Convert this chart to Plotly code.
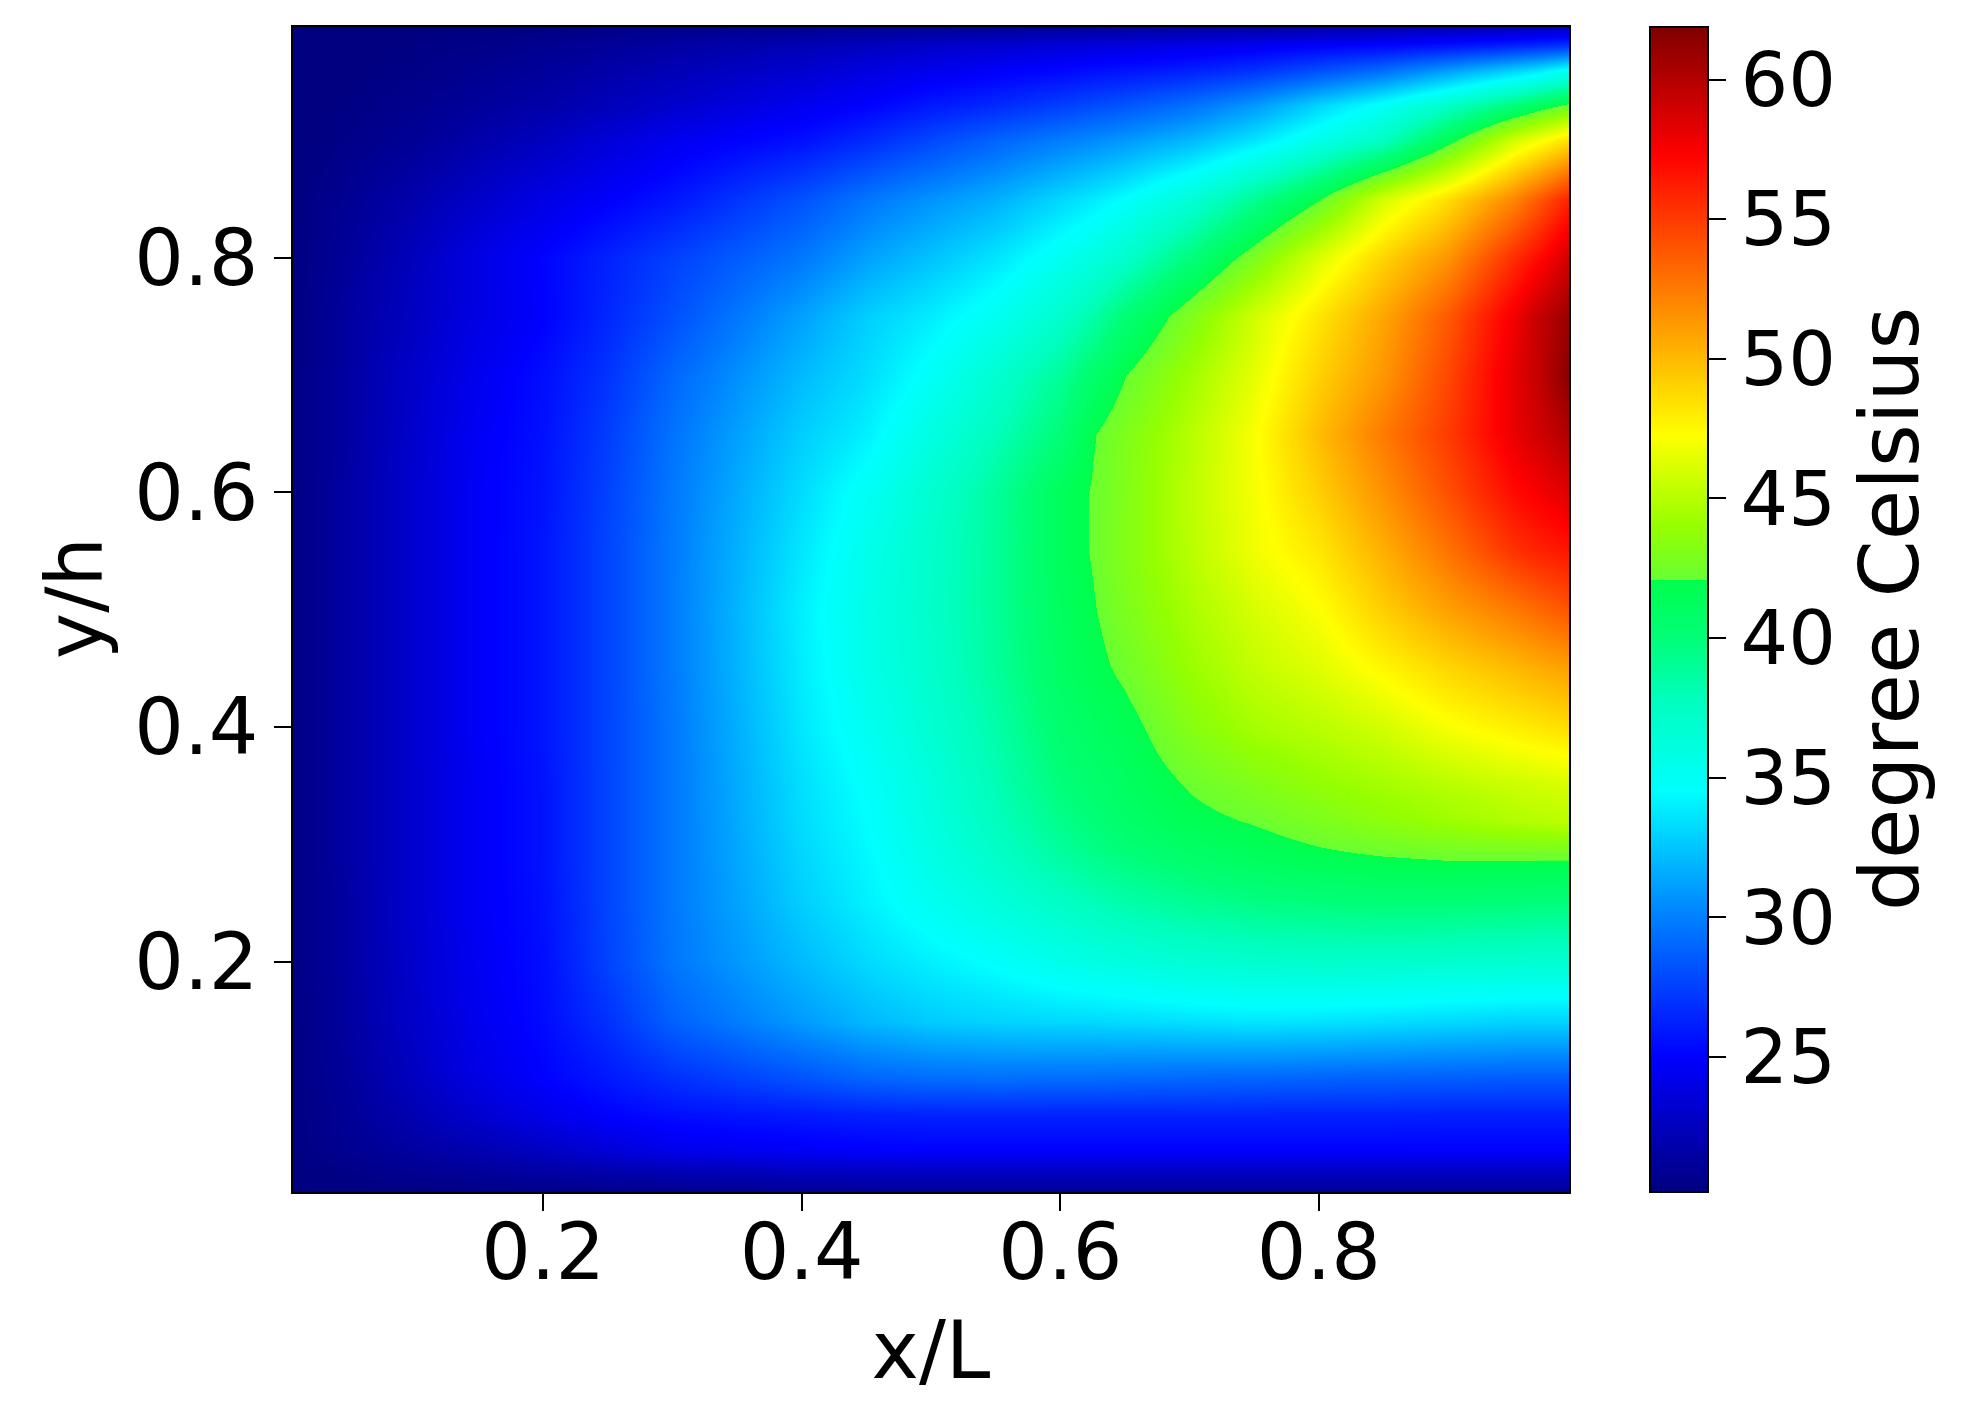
import plotly.graph_objects as go

# x/L and y/h of the sampled points
x_pos = [0.0065, 0.05, 0.1, 0.15, 0.2, 0.25, 0.3, 0.4, 0.45, 0.5, 0.55, 0.6, 0.625, 0.65, 0.7, 0.75, 0.8, 0.85, 0.9, 0.95, 0.97, 0.9935]
y_pos = [0.004, 0.02, 0.04, 0.07, 0.1, 0.15, 0.2, 0.25, 0.29, 0.32, 0.35, 0.4, 0.45, 0.5, 0.55, 0.6, 0.65, 0.7, 0.75, 0.8, 0.85, 0.9, 0.93, 0.96, 0.98, 0.9965]

# temperature in degree Celsius, one row per y_pos value
temps = [
    [20.2, 20.2, 20.3, 20.4, 20.5, 20.6, 20.7, 20.9, 21.0, 21.0, 21.0, 21.0, 21.0, 21.0, 21.0, 21.0, 21.0, 21.0, 21.0, 21.0, 21.0, 21.0],
    [20.2, 20.4, 20.8, 21.1, 21.4, 21.7, 22.0, 22.4, 22.5, 22.6, 22.6, 22.6, 22.6, 22.6, 22.6, 22.6, 22.6, 22.6, 22.6, 22.6, 22.6, 22.6],
    [20.3, 20.8, 21.4, 22.0, 22.7, 23.5, 24.2, 24.7, 24.9, 25.0, 25.0, 25.0, 25.0, 25.0, 25.0, 25.0, 25.0, 25.0, 25.0, 25.0, 25.0, 25.0],
    [20.3, 21.0, 22.1, 23.2, 24.2, 25.0, 25.5, 26.0, 26.2, 26.3, 26.3, 26.3, 26.3, 26.3, 26.3, 26.3, 26.3, 26.3, 26.2, 26.2, 26.2, 26.2],
    [20.3, 21.2, 22.6, 24.0, 25.0, 25.9, 26.8, 28.2, 28.9, 29.2, 29.3, 29.2, 29.2, 29.1, 29.0, 28.9, 28.8, 28.7, 28.6, 28.5, 28.5, 28.5],
    [20.3, 21.4, 23.0, 24.4, 25.4, 26.9, 28.8, 31.0, 32.0, 32.7, 33.0, 33.2, 33.2, 33.3, 33.5, 33.7, 33.6, 33.4, 33.2, 33.0, 33.0, 33.0],
    [20.3, 21.5, 23.1, 24.6, 25.5, 27.6, 29.6, 32.1, 33.2, 34.0, 34.7, 35.5, 35.9, 36.2, 36.7, 37.0, 37.1, 37.1, 37.0, 36.9, 36.8, 36.8],
    [20.3, 21.5, 23.2, 24.7, 25.6, 27.7, 29.7, 32.8, 34.0, 35.2, 36.3, 37.4, 37.9, 38.4, 39.1, 39.6, 39.9, 40.1, 40.1, 40.0, 39.9, 39.9],
    [20.3, 21.6, 23.2, 24.7, 25.7, 27.7, 29.7, 33.1, 34.3, 35.8, 37.3, 38.7, 39.4, 39.9, 40.7, 41.3, 41.8, 42.1, 42.3, 42.3, 42.3, 42.3],
    [20.3, 21.6, 23.2, 24.7, 25.7, 27.7, 29.7, 33.3, 34.5, 36.1, 37.8, 39.4, 40.1, 40.7, 41.7, 42.2, 42.9, 43.6, 44.2, 44.8, 45.0, 45.2],
    [20.3, 21.6, 23.2, 24.7, 25.7, 27.7, 29.7, 33.4, 34.7, 36.3, 38.1, 39.9, 40.5, 41.1, 42.2, 43.0, 43.8, 44.4, 45.0, 45.6, 45.8, 46.0],
    [20.3, 21.6, 23.2, 24.8, 25.8, 27.7, 29.7, 33.7, 35.2, 36.8, 38.5, 40.5, 41.1, 41.6, 43.3, 44.5, 45.1, 45.9, 47.1, 47.9, 48.2, 48.6],
    [20.3, 21.6, 23.2, 24.8, 25.8, 27.7, 29.8, 33.9, 35.6, 37.1, 38.9, 41.0, 41.7, 42.4, 44.1, 45.4, 46.3, 47.6, 48.9, 50.0, 50.5, 51.0],
    [20.3, 21.6, 23.2, 24.8, 25.8, 27.7, 29.8, 34.0, 35.7, 37.3, 39.0, 41.2, 42.0, 42.9, 44.6, 46.0, 47.2, 49.2, 51.0, 52.5, 53.2, 54.0],
    [20.3, 21.6, 23.2, 24.8, 25.8, 27.7, 29.8, 33.7, 35.5, 37.2, 39.0, 41.4, 42.2, 43.2, 45.1, 46.8, 48.2, 50.4, 52.8, 55.3, 56.0, 56.5],
    [20.3, 21.6, 23.2, 24.8, 25.7, 27.6, 29.7, 33.3, 35.0, 36.9, 38.9, 41.4, 42.2, 43.1, 45.2, 47.0, 49.2, 51.6, 54.2, 56.9, 57.6, 58.5],
    [20.3, 21.5, 23.1, 24.7, 25.6, 27.4, 29.5, 32.8, 34.0, 36.0, 37.9, 40.1, 42.0, 43.0, 45.0, 47.1, 49.9, 52.5, 55.0, 58.0, 59.0, 60.2],
    [20.3, 21.5, 23.0, 24.4, 25.5, 27.0, 29.0, 32.1, 33.3, 34.9, 36.9, 39.0, 40.6, 42.05, 44.3, 46.5, 49.1, 51.4, 54.5, 58.2, 59.5, 61.6],
    [20.2, 21.4, 22.7, 24.0, 25.0, 26.5, 28.1, 31.2, 32.8, 33.9, 35.2, 37.1, 38.5, 40.2, 43.0, 45.8, 48.3, 50.8, 53.8, 57.7, 59.4, 61.0],
    [20.2, 21.2, 22.5, 24.0, 25.1, 26.3, 27.5, 29.7, 31.2, 32.4, 33.6, 35.2, 36.1, 37.2, 40.0, 42.9, 46.2, 49.0, 51.5, 55.5, 57.0, 59.0],
    [20.2, 20.9, 21.9, 23.0, 24.0, 24.9, 25.8, 28.2, 29.6, 30.7, 31.7, 33.1, 33.8, 34.6, 36.6, 39.2, 42.0, 45.9, 48.6, 52.0, 53.8, 56.0],
    [20.1, 20.5, 21.0, 21.8, 22.6, 23.5, 24.4, 25.6, 26.6, 27.8, 28.9, 29.9, 30.4, 30.9, 32.0, 33.6, 35.6, 37.6, 41.5, 45.8, 47.0, 48.5],
    [20.1, 20.3, 20.7, 21.2, 21.7, 22.4, 23.1, 24.4, 25.0, 25.9, 26.6, 27.4, 27.9, 28.3, 29.4, 30.9, 33.0, 34.9, 37.3, 40.0, 41.2, 42.4],
    [20.0, 20.2, 20.4, 20.8, 21.2, 21.7, 22.2, 23.2, 23.8, 24.3, 24.8, 25.2, 25.5, 25.7, 26.2, 26.9, 28.0, 29.2, 31.0, 32.8, 33.6, 35.0],
    [20.0, 20.1, 20.3, 20.5, 20.8, 21.1, 21.5, 22.2, 22.6, 23.0, 23.3, 23.6, 23.8, 23.9, 24.2, 24.6, 25.0, 25.3, 25.8, 26.5, 26.8, 27.3],
    [20.0, 20.0, 20.1, 20.2, 20.3, 20.5, 20.6, 20.8, 20.9, 21.0, 21.1, 21.2, 21.2, 21.3, 21.4, 21.6, 21.8, 22.0, 22.2, 22.4, 22.5, 22.6],
]

x_ticks = [0.2, 0.4, 0.6, 0.8]
y_ticks = [0.2, 0.4, 0.6, 0.8]
cbar_ticks = [25, 30, 35, 40, 45, 50, 55, 60]
t_min = 20.17
t_max = 61.88

# jet like map, with the step the original has just above 42 degrees
jet_stops = [
    [0.0, "rgb(0,0,128)"],
    [0.116, "rgb(0,0,255)"],
    [0.236, "rgb(0,128,255)"],
    [0.344, "rgb(0,255,255)"],
    [0.4227, "rgb(0,255,190)"],
    [0.4754, "rgb(0,255,120)"],
    [0.5256, "rgb(0,255,75)"],
    [0.5257, "rgb(105,255,50)"],
    [0.5715, "rgb(150,255,0)"],
    [0.65, "rgb(255,255,0)"],
    [0.763, "rgb(255,135,0)"],
    [0.89, "rgb(255,0,0)"],
    [1.0, "rgb(128,0,0)"],
]

font = "DejaVu Sans"
tick_size = 78
cbar_tick_size = 75

fig = go.Figure(go.Heatmap(
    x=x_pos,
    y=y_pos,
    z=temps,
    zmin=t_min,
    zmax=t_max,
    zsmooth="best",
    colorscale=jet_stops,
    colorbar=dict(
        x=1357 / 1276,
        xanchor="left",
        xpad=0,
        ypad=0,
        y=0.5,
        yanchor="middle",
        len=1,
        thickness=58,
        outlinecolor="black",
        outlinewidth=2,
        tickmode="array",
        tickvals=cbar_ticks,
        ticks="outside",
        ticklen=17,
        tickwidth=2,
        tickcolor="black",
        tickfont=dict(family=font, size=cbar_tick_size, color="black"),
    ),
))

# the page has an 8px body margin, so the figure is that much smaller
fig.update_layout(
    width=1949,
    height=1404,
    autosize=False,
    paper_bgcolor="white",
    plot_bgcolor="white",
    margin=dict(l=285, r=388, t=19, b=220, pad=0),
    font=dict(family=font, color="black"),
    xaxis=dict(
        range=[0.0065, 0.9935],
        tickvals=x_ticks,
        ticktext=["0.2", "0.4", "0.6", "0.8"],
        ticks="outside",
        ticklen=17,
        tickwidth=2,
        tickcolor="black",
        ticklabelstandoff=-26,
        tickfont=dict(family=font, size=tick_size, color="black"),
        showgrid=False,
        zeroline=False,
        showline=True,
        mirror=True,
        linecolor="black",
        linewidth=2,
        title=dict(text="x/L", font=dict(family=font, size=80, color="black"), standoff=26),
    ),
    yaxis=dict(
        range=[0.004, 0.9965],
        tickvals=y_ticks,
        ticktext=["0.2", "0.4", "0.6", "0.8"],
        ticks="outside",
        ticklen=17,
        tickwidth=2,
        tickcolor="black",
        tickfont=dict(family=font, size=tick_size, color="black"),
        showgrid=False,
        zeroline=False,
        showline=True,
        mirror=True,
        linecolor="black",
        linewidth=2,
    ),
    annotations=[
        # plotly turns colorbar titles the other way, so these two are annotations
        dict(text="y/h", textangle=-90, xref="paper", yref="paper",
             x=-218 / 1276, y=(1192 - 598) / 1165, xanchor="center", yanchor="middle",
             showarrow=False, font=dict(family=font, size=78, color="black")),
        dict(text="degree Celsius", textangle=-90, xref="paper", yref="paper",
             x=(1889 - 293) / 1276, y=(1192 - 609) / 1165, xanchor="center", yanchor="middle",
             showarrow=False, font=dict(family=font, size=82, color="black")),
    ],
)

fig.write_html("out.html")
